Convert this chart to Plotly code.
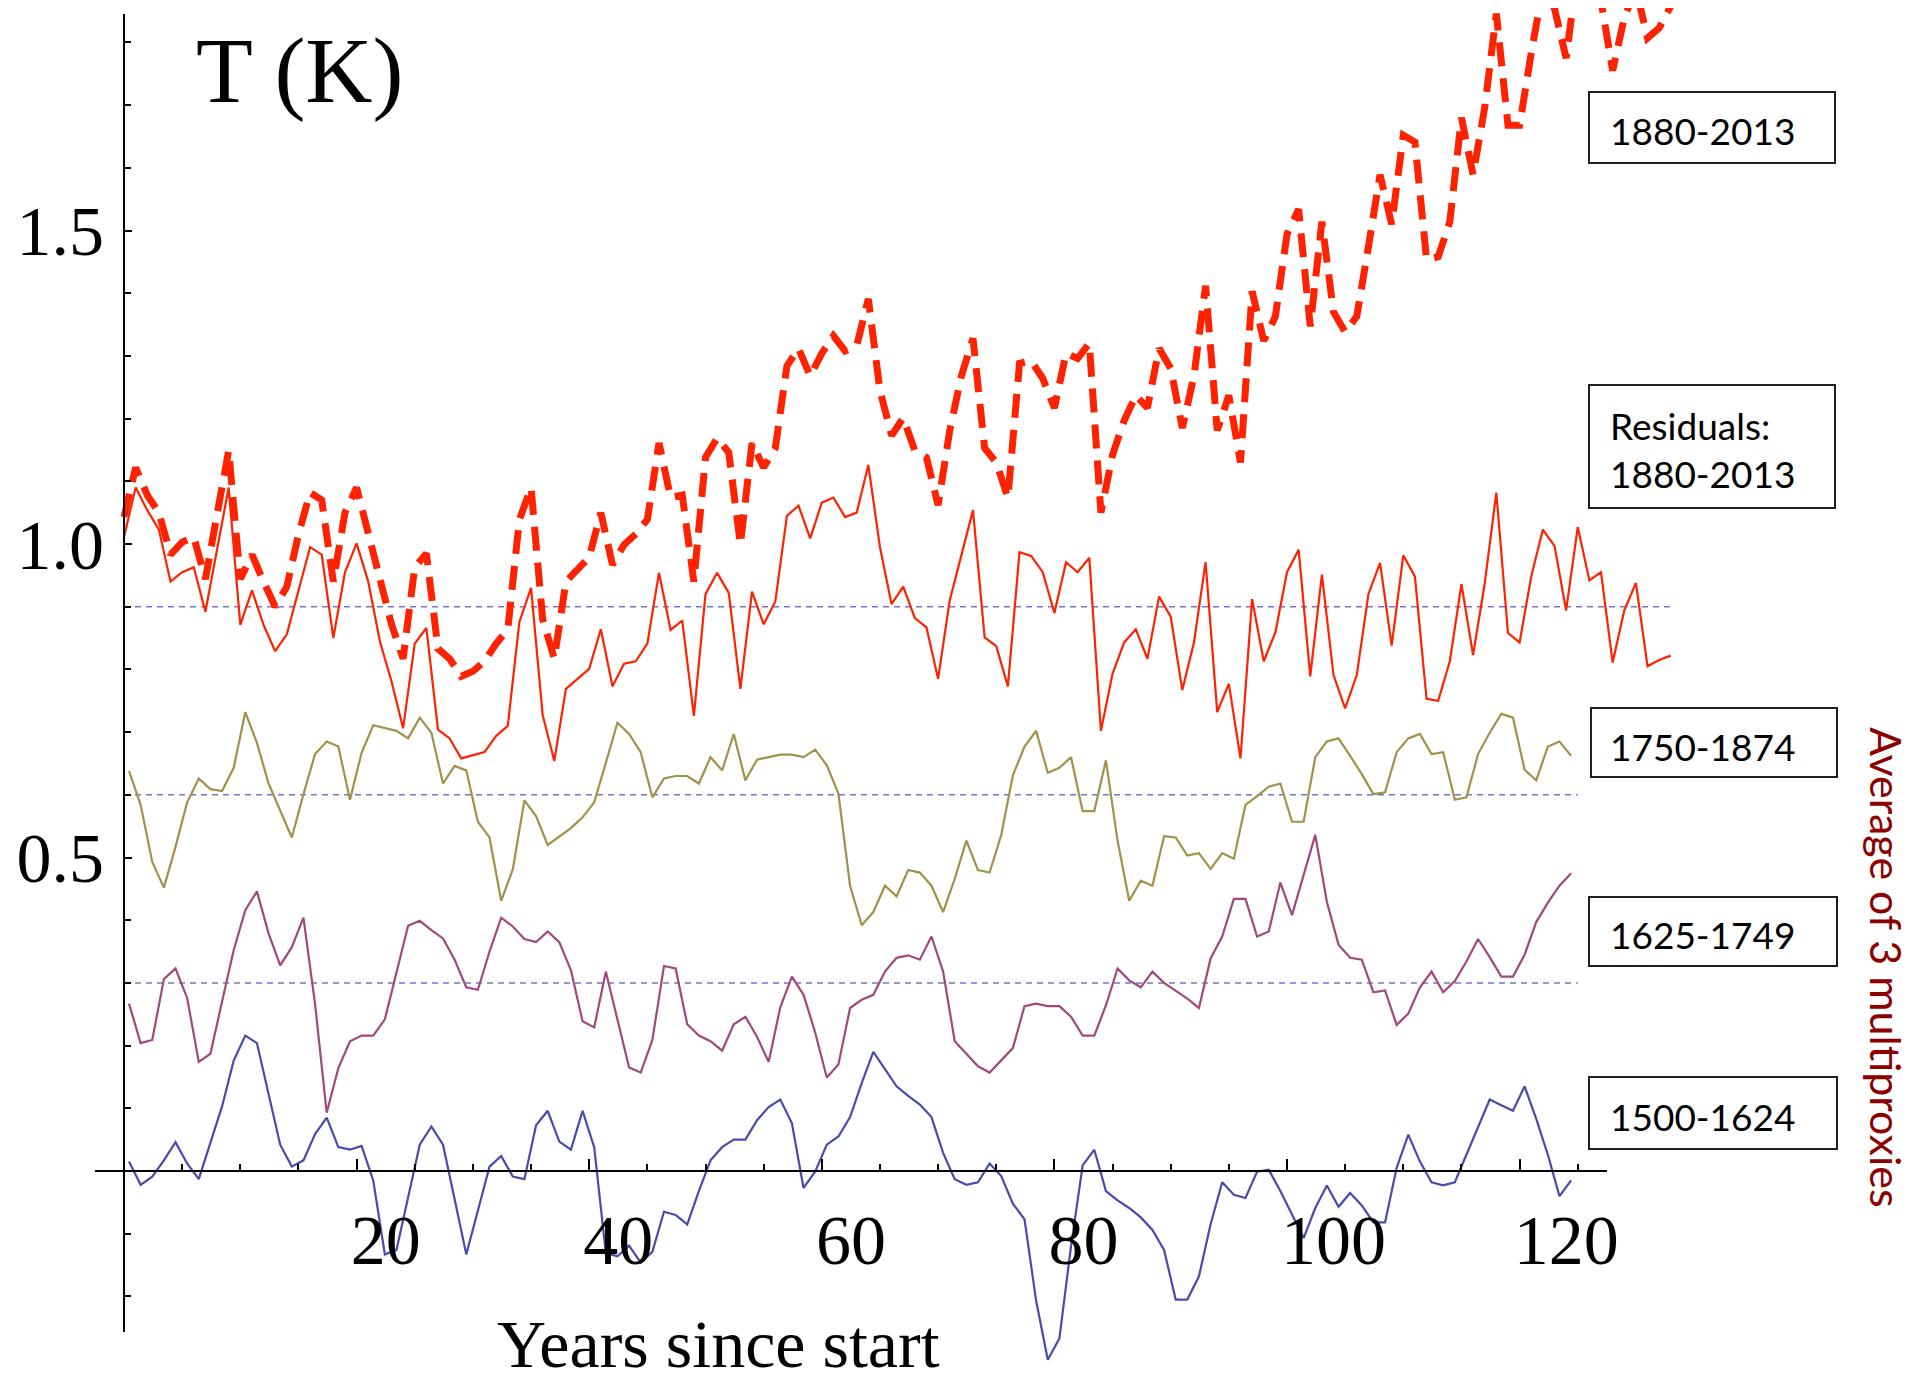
import plotly.graph_objects as go

# ---------------- data ----------------
years_since_start = list(range(134))          # 1880-2013
temp_1880_2013 = [
    1.043, 1.122, 1.078, 1.050, 0.983, 1.003, 1.011, 0.944, 1.047, 1.149,
    0.944, 0.983, 0.940, 0.900, 0.932, 1.015, 1.082, 1.070, 0.940, 1.050,
    1.090, 1.019, 0.944, 0.872, 0.817, 0.963, 0.985, 0.833, 0.817, 0.789,
    0.797, 0.813, 0.841, 0.864, 1.039, 1.090, 0.880, 0.817, 0.940, 0.959,
    0.979, 1.050, 0.967, 0.999, 1.016, 1.039, 1.161, 1.074, 1.078, 0.940,
    1.138, 1.169, 1.146, 0.999, 1.161, 1.122, 1.153, 1.284, 1.312, 1.268,
    1.304, 1.332, 1.308, 1.316, 1.391, 1.245, 1.173, 1.201, 1.149, 1.138,
    1.062, 1.181, 1.268, 1.328, 1.153, 1.130, 1.074, 1.288, 1.292, 1.264,
    1.217, 1.304, 1.296, 1.320, 1.050, 1.142, 1.197, 1.237, 1.217, 1.312,
    1.280, 1.185, 1.268, 1.412, 1.181, 1.237, 1.130, 1.403, 1.324, 1.363,
    1.494, 1.534, 1.347, 1.514, 1.370, 1.338, 1.363, 1.474, 1.589, 1.510,
    1.652, 1.641, 1.454, 1.458, 1.514, 1.680, 1.589, 1.696, 1.846, 1.668,
    1.668, 1.783, 1.886, 1.854, 1.775, 1.918, 1.866, 1.866, 1.755, 1.839,
    1.886, 1.807, 1.823, 1.858]
residuals_1880_2013 = [
    1.011, 1.090, 1.054, 1.023, 0.940, 0.955, 0.963, 0.892, 0.991, 1.090,
    0.871, 0.926, 0.871, 0.829, 0.856, 0.924, 0.995, 0.983, 0.850, 0.955,
    1.001, 0.940, 0.845, 0.781, 0.706, 0.841, 0.866, 0.704, 0.690, 0.658,
    0.663, 0.668, 0.694, 0.710, 0.876, 0.930, 0.727, 0.654, 0.769, 0.785,
    0.801, 0.864, 0.773, 0.809, 0.813, 0.841, 0.954, 0.863, 0.878, 0.726,
    0.920, 0.954, 0.922, 0.769, 0.924, 0.872, 0.908, 1.045, 1.061, 1.009,
    1.066, 1.074, 1.043, 1.050, 1.126, 0.995, 0.904, 0.932, 0.882, 0.867,
    0.785, 0.910, 0.983, 1.054, 0.851, 0.837, 0.773, 0.987, 0.981, 0.955,
    0.890, 0.971, 0.955, 0.978, 0.702, 0.793, 0.843, 0.864, 0.817, 0.916,
    0.884, 0.767, 0.843, 0.971, 0.732, 0.777, 0.658, 0.912, 0.813, 0.859,
    0.955, 0.991, 0.789, 0.951, 0.791, 0.738, 0.791, 0.920, 0.970, 0.838,
    0.982, 0.948, 0.753, 0.750, 0.813, 0.936, 0.823, 0.937, 1.082, 0.858,
    0.843, 0.948, 1.023, 0.997, 0.894, 1.027, 0.942, 0.955, 0.811, 0.894,
    0.938, 0.805, 0.815, 0.822]

proxy_years = [k + 0.43 for k in range(125)]
proxy_1750_1874 = [
    0.638, 0.584, 0.493, 0.452, 0.517, 0.588, 0.626, 0.609, 0.606, 0.643,
    0.732, 0.683, 0.618, 0.575, 0.532, 0.601, 0.665, 0.685, 0.677, 0.592,
    0.667, 0.711, 0.707, 0.702, 0.690, 0.723, 0.699, 0.618, 0.646, 0.639,
    0.557, 0.532, 0.431, 0.481, 0.591, 0.566, 0.520, 0.534, 0.547, 0.564,
    0.588, 0.651, 0.715, 0.697, 0.668, 0.596, 0.626, 0.630, 0.630, 0.618,
    0.660, 0.639, 0.697, 0.623, 0.656, 0.660, 0.664, 0.664, 0.660, 0.672,
    0.647, 0.602, 0.455, 0.392, 0.413, 0.455, 0.438, 0.480, 0.476, 0.455,
    0.413, 0.466, 0.527, 0.480, 0.476, 0.536, 0.631, 0.677, 0.702, 0.635,
    0.643, 0.660, 0.574, 0.574, 0.655, 0.527, 0.431, 0.463, 0.455, 0.534,
    0.532, 0.503, 0.507, 0.482, 0.507, 0.498, 0.584, 0.598, 0.613, 0.618,
    0.557, 0.557, 0.660, 0.685, 0.690, 0.662, 0.633, 0.601, 0.604, 0.668,
    0.690, 0.697, 0.665, 0.668, 0.592, 0.596, 0.665, 0.699, 0.729, 0.723,
    0.640, 0.623, 0.677, 0.685, 0.662]
proxy_1625_1749 = [
    0.267, 0.204, 0.209, 0.306, 0.323, 0.276, 0.174, 0.187, 0.270, 0.352,
    0.416, 0.446, 0.379, 0.328, 0.357, 0.404, 0.266, 0.093, 0.164, 0.207,
    0.216, 0.216, 0.242, 0.318, 0.391, 0.399, 0.384, 0.371, 0.337, 0.293,
    0.289, 0.350, 0.404, 0.390, 0.370, 0.365, 0.382, 0.365, 0.320, 0.239,
    0.229, 0.318, 0.241, 0.165, 0.157, 0.209, 0.327, 0.323, 0.234, 0.216,
    0.207, 0.192, 0.234, 0.246, 0.214, 0.174, 0.261, 0.310, 0.281, 0.221,
    0.149, 0.170, 0.260, 0.273, 0.281, 0.318, 0.340, 0.344, 0.337, 0.374,
    0.318, 0.207, 0.187, 0.167, 0.157, 0.177, 0.196, 0.263, 0.267, 0.263,
    0.263, 0.246, 0.216, 0.216, 0.264, 0.323, 0.304, 0.293, 0.318, 0.300,
    0.288, 0.275, 0.260, 0.339, 0.374, 0.434, 0.434, 0.374, 0.382, 0.460,
    0.408, 0.473, 0.536, 0.429, 0.361, 0.340, 0.337, 0.285, 0.288, 0.233,
    0.251, 0.293, 0.318, 0.285, 0.303, 0.334, 0.370, 0.341, 0.310, 0.310,
    0.345, 0.397, 0.428, 0.455, 0.475]
proxy_1500_1624 = [
    0.015, -0.022, -0.009, 0.017, 0.046, 0.012, -0.013, 0.046, 0.103, 0.176,
    0.216, 0.204, 0.123, 0.042, 0.007, 0.017, 0.059, 0.085, 0.038, 0.034,
    0.040, -0.015, -0.133, -0.126, -0.042, 0.042, 0.071, 0.042, -0.045, -0.133,
    -0.063, 0.007, 0.024, -0.009, -0.013, 0.073, 0.096, 0.047, 0.034, 0.096,
    0.038, -0.131, -0.136, -0.119, -0.146, -0.129, -0.065, -0.070, -0.085, -0.032,
    0.017, 0.038, 0.050, 0.050, 0.081, 0.102, 0.114, 0.076, -0.027, -0.001,
    0.042, 0.055, 0.086, 0.140, 0.190, 0.162, 0.135, 0.120, 0.106, 0.086,
    0.029, -0.013, -0.022, -0.018, 0.012, -0.008, -0.052, -0.077, -0.207, -0.301,
    -0.267, -0.120, 0.009, 0.034, -0.032, -0.047, -0.059, -0.074, -0.094, -0.126,
    -0.205, -0.205, -0.168, -0.085, -0.018, -0.038, -0.043, -0.001, 0.002, -0.032,
    -0.069, -0.107, -0.059, -0.023, -0.057, -0.035, -0.055, -0.082, -0.082, 0.005,
    0.058, 0.015, -0.018, -0.023, -0.018, 0.026, 0.071, 0.114, 0.105, 0.096,
    0.135, 0.083, 0.026, -0.040, -0.015]

baseline_levels = [0.9, 0.6, 0.3]
baseline_ends = [133, 125, 125]
x_major_ticks = [20, 40, 60, 80, 100, 120]
y_major_ticks = [0.5, 1.0, 1.5]
y_tick_labels = ["0.5", "1.0", "1.5"]
period_labels = ["1880-2013", "Residuals:<br>1880-2013", "1750-1874", "1625-1749", "1500-1624"]

# ---------------- styling / layout geometry (page pixels) ----------------
W, H = 1916, 1382
OFF = 8                              # page offset of the figure (body margin)
X0_PX, PX_PER_X = 124.0, 11.63       # page pixel of x=0, pixels per year
Y0_PX, PX_PER_Y = 1171.0, 627.0      # page pixel of y=0, pixels per kelvin

RED = "rgb(255,34,0)"
OLIVE = "rgb(160,146,72)"
PURPLE = "rgb(162,72,124)"
BLUE = "rgb(74,74,174)"
BASE = "rgb(118,118,200)"
SERIF = "Liberation Serif, Times New Roman, serif"
SANS = "Lato, Carlito, Calibri, sans-serif"


def px_x(p):
    return (p - OFF) / W


def px_y(p):
    return 1 - (p - OFF) / H


fig = go.Figure()

for lvl, end in zip(baseline_levels, baseline_ends):
    fig.add_trace(go.Scatter(x=[0, end], y=[lvl, lvl], mode="lines",
                             line=dict(color=BASE, width=1.5, dash="6px,5px"),
                             hoverinfo="skip"))

for ys, col in [(proxy_1500_1624, BLUE), (proxy_1625_1749, PURPLE), (proxy_1750_1874, OLIVE)]:
    fig.add_trace(go.Scatter(x=proxy_years, y=ys, mode="lines",
                             line=dict(color=col, width=2.2)))

fig.add_trace(go.Scatter(x=years_since_start, y=residuals_1880_2013, mode="lines",
                         line=dict(color=RED, width=2.2)))
fig.add_trace(go.Scatter(x=years_since_start, y=temp_1880_2013, mode="lines",
                         line=dict(color=RED, width=7, dash="24px,12px")))

# helper trace so that the displayed axes (x2/y2) are rendered
fig.add_trace(go.Scatter(x=[None], y=[None], xaxis="x2", yaxis="y2", mode="lines",
                         hoverinfo="skip"))

axis_font = dict(family=SERIF, size=70, color="black")

fig.update_layout(
    width=W, height=H,
    margin=dict(l=0, r=0, t=0, b=0, autoexpand=False),
    paper_bgcolor="white", plot_bgcolor="rgba(0,0,0,0)",
    showlegend=False,
    xaxis=dict(domain=[0, 1],
               range=[(OFF - X0_PX) / PX_PER_X, (OFF + W - X0_PX) / PX_PER_X],
               visible=False, fixedrange=True),
    yaxis=dict(domain=[0, 1],
               range=[(Y0_PX - OFF - H) / PX_PER_Y, (Y0_PX - OFF) / PX_PER_Y],
               visible=False, fixedrange=True),
    xaxis2=dict(domain=[px_x(95), px_x(1607)],
                range=[(95 - X0_PX) / PX_PER_X, (1607 - X0_PX) / PX_PER_X],
                anchor="free", position=px_y(Y0_PX),
                showline=True, linecolor="black", linewidth=2.2,
                showgrid=False, zeroline=False,
                tickmode="array", tickvals=x_major_ticks,
                ticks="inside", ticklen=11, tickwidth=2, tickcolor="black",
                ticklabelposition="outside right", ticklabelshift=-8,
                ticklabelstandoff=8,
                minor=dict(tickmode="linear", tick0=0, dtick=5, ticks="inside",
                           ticklen=5.5, tickwidth=2, tickcolor="black"),
                tickfont=axis_font, fixedrange=True),
    yaxis2=dict(domain=[px_y(1332), px_y(14)],
                range=[(Y0_PX - 1332) / PX_PER_Y, (Y0_PX - 14) / PX_PER_Y],
                anchor="free", position=px_x(X0_PX),
                showline=True, linecolor="black", linewidth=2.2,
                showgrid=False, zeroline=False,
                tickmode="array", tickvals=y_major_ticks, ticktext=y_tick_labels,
                ticks="inside", ticklen=7, tickwidth=2, tickcolor="black",
                ticklabelstandoff=5,
                minor=dict(tickmode="linear", tick0=0, dtick=0.1, ticks="inside",
                           ticklen=6, tickwidth=2, tickcolor="black"),
                tickfont=axis_font, fixedrange=True),
)

annotations = [
    dict(text="T (K)", x=px_x(194), y=px_y(70), xanchor="left", yanchor="middle",
         font=dict(family=SERIF, size=93, color="black")),
    dict(text="Years since start", x=px_x(718), y=px_y(1344), xanchor="center",
         yanchor="middle", font=dict(family=SERIF, size=68, color="black")),
    dict(text="Average of 3 multiproxies", x=px_x(1886), y=px_y(967), textangle=90,
         xanchor="center", yanchor="middle",
         font=dict(family=SANS, size=43, color="rgb(140,0,0)")),
]
label_centers = [131, 449, 747, 934, 1116]
for txt, cy in zip(period_labels, label_centers):
    annotations.append(dict(text=txt, x=px_x(1608), y=px_y(cy), xanchor="left",
                            yanchor="middle", align="left",
                            font=dict(family=SANS, size=37, color="black")))
for a in annotations:
    a.update(xref="paper", yref="paper", showarrow=False)
fig.update_layout(annotations=annotations)

boxes = [(1589, 92, 1835, 163), (1589, 385, 1835, 508), (1591, 708, 1837, 777),
         (1589, 897, 1837, 966), (1589, 1077, 1837, 1149)]
for (x0, y0, x1, y1) in boxes:
    fig.add_shape(type="rect", xref="paper", yref="paper",
                  x0=px_x(x0), x1=px_x(x1), y0=px_y(y1), y1=px_y(y0),
                  line=dict(color="rgb(30,30,30)", width=2), fillcolor="rgba(0,0,0,0)")

fig.write_html("out.html")
